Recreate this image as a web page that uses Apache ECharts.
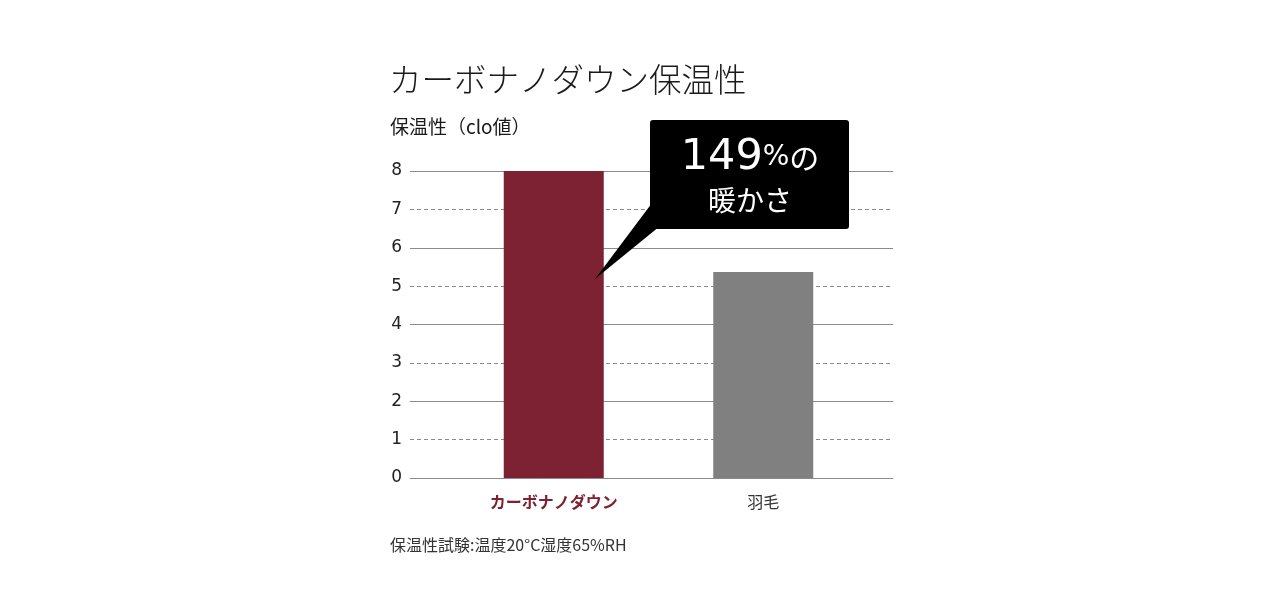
<!DOCTYPE html>
<html><head><meta charset="utf-8">
<script src="https://cdn.jsdelivr.net/npm/echarts@6/dist/echarts.min.js"></script>
<style>html,body{margin:0;padding:0;background:#fff}#c{width:1280px;height:600px}</style>
</head><body><div id="c"></div>
<script>
const categories = ['カーボナノダウン', '羽毛'];
const values = [8.0, 5.37];
const barColors = ['#7d2233', '#808080'];
const yTicks = [0, 8];
const titleText = 'カーボナノダウン保温性';
const unitText = '保温性（clo値）';
const noteText = '保温性試験:温度20°C湿度65%RH';
const calloutLine1 = ['149', '%', 'の'];
const calloutLine2 = '暖かさ';

const JP = '"Noto Sans CJK JP", "Noto Sans", sans-serif';
const chart = echarts.init(document.getElementById('c'));
chart.setOption({
  animation: false,
  backgroundColor: '#fff',
  title: [
    {text: titleText, left: 384, top: 58, textStyle: {fontFamily: JP, fontSize: 32.5, fontWeight: 300, color: '#1a1a1a'}},
    {text: unitText, left: 385, top: 112, textStyle: {fontFamily: JP, fontSize: 19, fontWeight: 'normal', color: '#1a1a1a'}},
    {text: noteText, left: 385, top: 532, textStyle: {fontFamily: JP, fontSize: 16, fontWeight: 'normal', color: '#333'}}
  ],
  grid: [
    {left: 410, right: 387, top: 171, bottom: 122},
    {left: 449, right: 412, top: 171, bottom: 122}
  ],
  xAxis: [
    {type: 'category', gridIndex: 0, data: categories, show: false},
    {type: 'category', gridIndex: 1, data: categories,
     axisLine: {show: false}, axisTick: {show: false},
     axisLabel: {margin: 16, fontFamily: JP, fontSize: 16,
       formatter: (v, i) => i === 0 ? '{b|' + v + '}' : '{n|' + v + '}',
       rich: {b: {fontFamily: JP, fontSize: 16, fontWeight: 'bold', color: '#7d2233'},
              n: {fontFamily: JP, fontSize: 16, color: '#333'}}}}
  ],
  yAxis: [
    {type: 'value', gridIndex: 0, min: yTicks[0], max: yTicks[1], interval: 1,
     axisLine: {show: false}, axisTick: {show: false},
     axisLabel: {margin: 8, fontFamily: '"DejaVu Sans", sans-serif', fontSize: 17, color: '#222'},
     splitLine: {show: true, lineStyle: {color: '#8a8a8a', width: 1, type: [4, 3]}}},
    {type: 'value', gridIndex: 0, min: yTicks[0], max: yTicks[1], interval: 2, position: 'left', z: 2,
     axisLine: {show: false}, axisTick: {show: false}, axisLabel: {show: false},
     splitLine: {show: true, lineStyle: {color: '#8a8a8a', width: 1, type: 'solid'}}},
    {type: 'value', gridIndex: 1, min: yTicks[0], max: yTicks[1], show: false,
     splitLine: {show: false}}
  ],
  series: [{
    type: 'bar', xAxisIndex: 1, yAxisIndex: 2, z: 5,
    barWidth: 100,
    data: values.map((v, i) => ({value: v, itemStyle: {color: barColors[i]}}))
  }],
  graphic: [
    {type: 'polygon', z: 100, shape: {points: [[660, 226], [595, 279], [652, 203]]}, style: {fill: '#000'}},
    {type: 'rect', z: 100, shape: {x: 650, y: 120, width: 199, height: 109, r: 3}, style: {fill: '#000'}},
    {type: 'text', z: 101, style: {
      x: 750, y: 158, align: 'center', verticalAlign: 'middle',
      text: '{num|' + calloutLine1[0] + '}{pct|' + calloutLine1[1] + '}{no|' + calloutLine1[2] + '}',
      rich: {
        num: {fontFamily: '"DejaVu Sans", sans-serif', fontSize: 43, fill: '#fff'},
        pct: {fontFamily: '"DejaVu Sans", sans-serif', fontSize: 28, fill: '#fff'},
        no: {fontFamily: JP, fontSize: 30, fill: '#fff'}
      }}},
    {type: 'text', z: 101, style: {x: 750, y: 200, align: 'center', verticalAlign: 'middle',
      text: calloutLine2, font: '28px "Noto Sans CJK JP", sans-serif', fill: '#fff'}}
  ]
});
</script></body></html>
